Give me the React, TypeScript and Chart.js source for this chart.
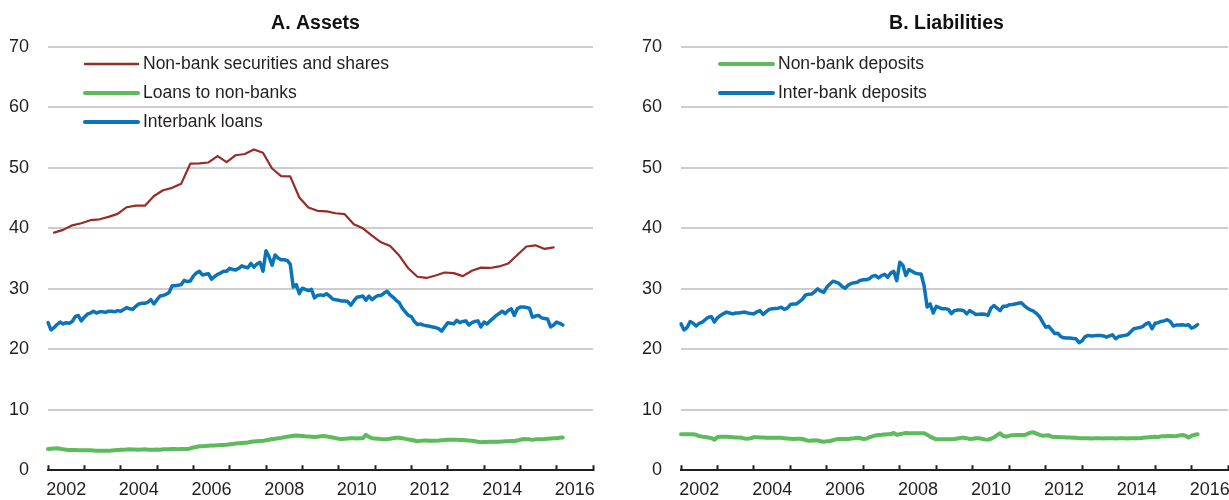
import React, { useEffect, useRef } from 'react';
import { Chart, registerables } from 'chart.js';

Chart.register(...registerables);

// ---------- data ----------
const START_YEAR = 2002;
const END_YEAR = 2016;
const yearLabels = ['2002', '2004', '2006', '2008', '2010', '2012', '2014', '2016'];
const titles = ['A. Assets', 'B. Liabilities'];
const assetLabels = ['Non-bank securities and shares', 'Loans to non-banks', 'Interbank loans'];
const liabilityLabels = ['Non-bank deposits', 'Inter-bank deposits'];

// quarterly, 2002Q1 .. 2015Q4 (end-of-quarter months)
const securities = [
  39.3, 39.75, 40.5, 40.85, 41.35, 41.5, 41.9, 42.4,
  43.5, 43.75, 43.75, 45.35, 46.3, 46.7, 47.4, 50.7,
  50.75, 50.9, 51.95, 50.95, 52.1, 52.3, 53.05, 52.5,
  49.9, 48.65, 48.6, 45.1, 43.45, 42.9, 42.8, 42.5,
  42.35, 40.7, 40.0, 38.8, 37.7, 37.1, 35.5, 33.4,
  32.0, 31.8, 32.2, 32.7, 32.6, 32.1, 33.0, 33.5,
  33.45, 33.7, 34.2, 35.6, 37.0, 37.2, 36.6, 36.85,
];

// monthly, Jan 2002 .. Mar 2016
const loansNonBanks = [
  3.5, 3.55, 3.6, 3.62, 3.55, 3.45, 3.4,
  3.35, 3.35, 3.33, 3.32, 3.3, 3.3, 3.3,
  3.28, 3.25, 3.22, 3.2, 3.2, 3.2, 3.22,
  3.25, 3.3, 3.35, 3.38, 3.4, 3.42, 3.45,
  3.43, 3.42, 3.4, 3.42, 3.45, 3.4, 3.38,
  3.4, 3.42, 3.4, 3.45, 3.48, 3.45, 3.5,
  3.5, 3.48, 3.5, 3.5, 3.5, 3.6, 3.75,
  3.85, 3.95, 3.98, 4.0, 4.05, 4.08, 4.1,
  4.12, 4.15, 4.17, 4.2, 4.3, 4.35, 4.4,
  4.45, 4.5, 4.55, 4.6, 4.7, 4.75, 4.8,
  4.82, 4.85, 4.95, 5.05, 5.15, 5.2, 5.27,
  5.35, 5.45, 5.55, 5.62, 5.68, 5.72, 5.7,
  5.65, 5.6, 5.58, 5.55, 5.5, 5.55, 5.6,
  5.65, 5.6, 5.5, 5.4, 5.3, 5.2, 5.18,
  5.2, 5.25, 5.27, 5.27, 5.25, 5.27, 5.3,
  5.85, 5.5, 5.3, 5.25, 5.2, 5.15, 5.12,
  5.15, 5.2, 5.3, 5.35, 5.38, 5.3, 5.18,
  5.1, 5.0, 4.9, 4.8, 4.85, 4.9, 4.9,
  4.88, 4.87, 4.88, 4.9, 4.95, 5.0, 5.02,
  5.05, 5.05, 5.03, 5.0, 4.98, 4.95, 4.9,
  4.88, 4.8, 4.7, 4.62, 4.65, 4.68, 4.7,
  4.72, 4.72, 4.72, 4.75, 4.78, 4.8, 4.82,
  4.83, 4.9, 5.05, 5.15, 5.12, 5.1, 5.05,
  5.1, 5.12, 5.1, 5.15, 5.2, 5.25, 5.3,
  5.3, 5.35, 5.4,
];

const interbankLoans = [
  24.4, 23.2, 23.6, 24.1, 24.5, 24.2, 24.4, 24.3, 24.6, 25.4,
  25.6, 24.7, 25.3, 25.8, 26.0, 26.3, 26.0, 26.2, 26.2, 26.1,
  26.3, 26.3, 26.2, 26.4, 26.3, 26.6, 26.9, 26.7, 26.6, 27.1,
  27.5, 27.6, 27.6, 27.8, 28.2, 27.5, 28.2, 28.8, 28.9, 29.1,
  29.4, 30.5, 30.5, 30.6, 30.7, 31.4, 31.2, 31.3, 32.1, 32.6,
  32.9, 32.3, 32.4, 32.5, 31.6, 32.0, 32.4, 32.6, 32.9, 32.9,
  33.4, 33.2, 33.1, 33.4, 33.8, 33.6, 33.5, 34.2, 33.6, 34.1,
  34.4, 32.9, 36.3, 35.3, 33.9, 35.6, 35.1, 34.8, 34.8, 34.7,
  34.1, 30.3, 30.7, 29.2, 30.1, 29.9, 29.7, 29.9, 28.5, 28.9,
  29.0, 28.9, 29.2, 28.8, 28.3, 28.2, 28.1, 28.0, 28.0, 27.9,
  27.3, 28.0, 28.6, 28.7, 28.8, 28.1, 28.8, 28.2, 28.6, 28.9,
  28.9, 29.3, 29.6, 29.0, 28.6, 28.1, 27.7, 26.8, 26.2, 25.6,
  25.4, 24.6, 24.1, 24.2, 24.0, 23.9, 23.8, 23.7, 23.6, 23.4,
  23.0, 23.7, 24.4, 24.3, 24.2, 24.8, 24.4, 24.6, 24.7, 24.0,
  24.4, 24.6, 24.7, 23.7, 24.5, 24.2, 24.7, 25.1, 25.6, 25.9,
  26.3, 25.9, 26.4, 26.7, 25.6, 26.7, 27.0, 27.0, 26.9, 26.8,
  25.3, 25.5, 25.6, 25.2, 25.1, 25.0, 23.7, 24.0, 24.5, 24.3,
  24.0,
];

const nonBankDeposits = [
  5.93, 5.93, 5.93, 5.93, 5.93, 5.85, 5.65,
  5.55, 5.5, 5.4, 5.3, 5.05, 5.5, 5.55,
  5.55, 5.55, 5.5, 5.45, 5.4, 5.4, 5.35,
  5.25, 5.2, 5.3, 5.45, 5.45, 5.4, 5.4,
  5.38, 5.38, 5.38, 5.38, 5.38, 5.35, 5.3,
  5.25, 5.2, 5.16, 5.2, 5.2, 5.16, 5.0,
  4.85, 4.9, 4.95, 4.9, 4.8, 4.72, 4.78,
  4.83, 4.95, 5.1, 5.16, 5.16, 5.16, 5.16,
  5.25, 5.3, 5.38, 5.3, 5.16, 5.2, 5.45,
  5.6, 5.75, 5.82, 5.85, 5.9, 5.95, 5.98,
  6.15, 5.85, 5.95, 6.05, 6.15, 6.12, 6.1,
  6.1, 6.1, 6.1, 6.1, 5.85, 5.55, 5.3,
  5.12, 5.1, 5.1, 5.12, 5.12, 5.11, 5.15,
  5.25, 5.35, 5.38, 5.3, 5.16, 5.2, 5.27,
  5.27, 5.2, 5.1, 5.05, 5.2, 5.44, 5.8,
  6.1, 5.65, 5.55, 5.7, 5.8, 5.82, 5.82,
  5.82, 5.82, 6.0, 6.2, 6.26, 6.05, 5.85,
  5.71, 5.75, 5.77, 5.55, 5.5, 5.48, 5.45,
  5.44, 5.42, 5.4, 5.38, 5.35, 5.3, 5.27,
  5.3, 5.27, 5.25, 5.3, 5.27, 5.27, 5.25,
  5.27, 5.3, 5.27, 5.25, 5.27, 5.3, 5.27,
  5.25, 5.27, 5.3, 5.27, 5.3, 5.35, 5.4,
  5.45, 5.5, 5.55, 5.5, 5.6, 5.62, 5.65,
  5.65, 5.6, 5.65, 5.75, 5.82, 5.7, 5.38,
  5.7, 5.85, 5.93,
];

const interbankDeposits = [
  24.2, 23.2, 23.6, 24.6, 24.3, 23.85, 24.3, 24.5, 24.9, 25.3,
  25.4, 24.5, 25.2, 25.6, 25.9, 26.15, 26.0, 25.85, 26.0, 26.0,
  26.1, 26.15, 26.0, 25.9, 25.85, 26.2, 26.4, 25.75, 26.2, 26.6,
  26.7, 26.75, 26.8, 26.95, 26.6, 26.8, 27.4, 27.5, 27.5, 27.9,
  28.3, 29.0, 29.1, 29.15, 29.5, 30.0, 29.6, 29.4, 30.3, 30.8,
  31.25, 31.1, 30.9, 30.4, 30.1, 30.6, 30.9, 31.0, 31.1, 31.4,
  31.5, 31.5, 31.7, 32.1, 32.2, 31.8, 32.2, 32.4, 31.9, 32.6,
  32.9, 31.35, 34.4, 33.9, 32.2, 33.2, 32.9, 32.6, 32.5, 32.45,
  30.5, 27.0, 27.5, 26.0, 27.1, 26.9, 26.7, 26.7, 26.6, 25.9,
  26.4, 26.5, 26.5, 26.4, 25.85, 26.4, 26.1, 25.75, 25.8, 25.85,
  25.8, 25.6, 26.8, 27.25, 26.8, 26.4, 27.1, 27.1, 27.35, 27.4,
  27.5, 27.6, 27.7, 27.2, 26.8, 26.5, 26.3, 25.9, 25.4, 24.5,
  23.65, 23.8, 23.2, 22.6, 22.65, 22.1, 21.9, 21.85, 21.85, 21.8,
  21.75, 21.1, 21.4, 22.1, 22.3, 22.2, 22.25, 22.3, 22.3, 22.2,
  22.0, 22.2, 22.4, 21.75, 22.1, 22.2, 22.3, 22.4, 22.9, 23.4,
  23.5, 23.6, 23.8, 24.2, 24.4, 23.4, 24.3, 24.4, 24.6, 24.7,
  24.9, 24.6, 23.85, 24.0, 24.0, 24.05, 23.95, 24.05, 23.5, 23.7,
  24.1,
];

// ---------- helpers ----------
const months: string[] = [];
for (let y = START_YEAR; y <= END_YEAR + 1; y++) {
  for (let m = 1; m <= 12; m++) {
    if (y === END_YEAR + 1 && m > 1) break;
    months.push(`${y}-${String(m).padStart(2, '0')}`);
  }
}
const securitiesMonthly = months.map((_, i) =>
  i % 3 === 2 && (i - 2) / 3 < securities.length ? securities[(i - 2) / 3] : null
);

const FONT = '"Liberation Sans", Arial, Helvetica, sans-serif';
const TEXT = '#231f20';
const GRID = '#cdcdcd';
const RED = '#9a2a26';
const GREEN = '#5cbb5a';
const BLUE = '#0a74ba';

type Panel = {
  title: string;
  titleDx: number;
  yWidth: number;
  padRight: number;
  legendDx: number;
  datasets: any[];
};

function makeConfig(p: Panel): any {
  const titlePlugin = {
    id: 'panelTitle',
    afterDraw(chart: any) {
      const { ctx, chartArea } = chart;
      ctx.save();
      ctx.font = `bold 19.5px ${FONT}`;
      ctx.fillStyle = '#111';
      ctx.textAlign = 'center';
      ctx.textBaseline = 'alphabetic';
      ctx.fillText(p.title, (chartArea.left + chartArea.right) / 2 + p.titleDx, 28.5);
      ctx.restore();
    },
  };
  const legendPlugin = {
    id: 'insideLegend',
    afterDatasetsDraw(chart: any) {
      const { ctx, chartArea } = chart;
      ctx.save();
      chart.data.datasets.forEach((ds: any, k: number) => {
        const y = chartArea.top + 17 + k * 29;
        const x0 = chartArea.left + p.legendDx;
        ctx.beginPath();
        ctx.strokeStyle = ds.borderColor;
        ctx.lineWidth = ds.legendWidth;
        ctx.lineCap = 'round';
        ctx.moveTo(x0, y);
        ctx.lineTo(x0 + 53, y);
        ctx.stroke();
        ctx.font = `17.5px ${FONT}`;
        ctx.fillStyle = TEXT;
        ctx.textAlign = 'left';
        ctx.textBaseline = 'middle';
        ctx.fillText(ds.label, x0 + 58, y);
      });
      ctx.restore();
    },
  };
  return {
    type: 'line',
    data: { labels: months, datasets: p.datasets },
    options: {
      responsive: false,
      animation: false,
      layout: { autoPadding: false, padding: { top: 47, right: p.padRight, left: 0, bottom: 0 } },
      plugins: { legend: { display: false }, tooltip: { enabled: false }, title: { display: false } },
      elements: { point: { radius: 0 }, line: { tension: 0, borderJoinStyle: 'round', borderCapStyle: 'round' } },
      scales: {
        x: {
          type: 'category',
          offset: false,
          grid: {
            display: true,
            drawOnChartArea: false,
            drawTicks: true,
            tickLength: -5,
            tickWidth: 2,
            tickColor: (c: any) => (c.index % 12 === 0 ? TEXT : 'rgba(0,0,0,0)'),
          },
          border: { display: true, color: TEXT, width: 2 },
          ticks: {
            autoSkip: false,
            maxRotation: 0,
            minRotation: 0,
            padding: 14,
            color: TEXT,
            font: { family: FONT, size: 18 },
            callback: (_v: any, i: number) => (i % 24 === 6 ? yearLabels[(i - 6) / 24] : ''),
          },
          afterFit: (s: any) => {
            s.height = 28;
            s.paddingLeft = 0;
            s.paddingRight = 0;
          },
        },
        y: {
          min: 0,
          max: 70,
          grid: {
            drawTicks: false,
            lineWidth: 2,
            color: (c: any) => (c.tick && c.tick.value === 0 ? 'rgba(0,0,0,0)' : GRID),
          },
          border: { display: false },
          ticks: { stepSize: 10, padding: 19, color: TEXT, font: { family: FONT, size: 18 } },
          afterFit: (s: any) => {
            s.width = p.yWidth;
          },
        },
      },
    },
    plugins: [titlePlugin, legendPlugin],
  };
}

const leftPanel: Panel = {
  title: titles[0],
  titleDx: -5,
  yWidth: 48,
  padRight: 17,
  legendDx: 37,
  datasets: [
    { label: assetLabels[0], data: securitiesMonthly, borderColor: RED, borderWidth: 2.2, legendWidth: 2.5, spanGaps: true },
    { label: assetLabels[1], data: loansNonBanks, borderColor: GREEN, borderWidth: 4, legendWidth: 4 },
    { label: assetLabels[2], data: interbankLoans, borderColor: BLUE, borderWidth: 3.5, legendWidth: 4 },
  ],
};

const rightPanel: Panel = {
  title: titles[1],
  titleDx: -8,
  yWidth: 61,
  padRight: 1,
  legendDx: 39,
  datasets: [
    { label: liabilityLabels[0], data: nonBankDeposits, borderColor: GREEN, borderWidth: 4, legendWidth: 4 },
    { label: liabilityLabels[1], data: interbankDeposits, borderColor: BLUE, borderWidth: 3.5, legendWidth: 4 },
  ],
};

function PanelChart({ panel, width }: { panel: Panel; width: number }) {
  const ref = useRef<HTMLCanvasElement | null>(null);
  useEffect(() => {
    if (!ref.current) return;
    const chart = new Chart(ref.current, makeConfig(panel));
    return () => chart.destroy();
  }, [panel]);
  return <canvas ref={ref} width={width} height={500} style={{ display: 'block', width, height: 500 }} />;
}

export default function App() {
  return (
    <div style={{ position: 'absolute', left: 0, top: 0, width: 1229, height: 500, background: '#fff' }}>
      <div style={{ position: 'absolute', left: 0, top: 0 }}>
        <PanelChart panel={leftPanel} width={610} />
      </div>
      <div style={{ position: 'absolute', left: 620, top: 0 }}>
        <PanelChart panel={rightPanel} width={609} />
      </div>
    </div>
  );
}
